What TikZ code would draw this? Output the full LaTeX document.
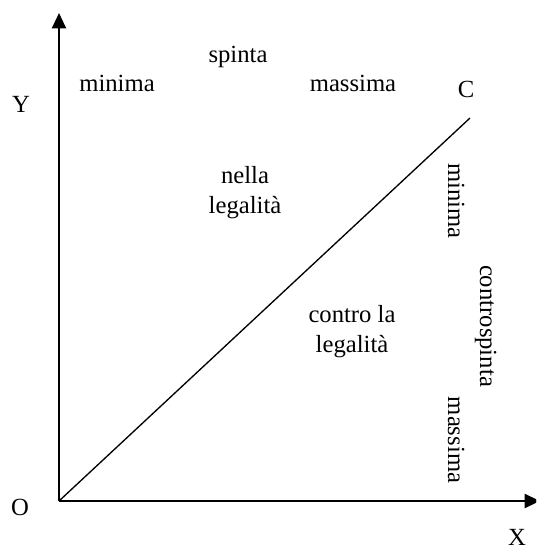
\documentclass[tikz,border=0pt]{standalone}
\usepackage{fontspec}
\setmainfont{Liberation Serif}
\usetikzlibrary{arrows.meta}
\begin{document}
\begin{tikzpicture}[x=0.75pt,y=-0.75pt,
  lbl/.style={font=\fontsize{18.5}{22}\selectfont, inner sep=0pt, anchor=base},
  axis/.style={line width=1.5pt, -{Triangle[length=11.5pt,width=10.5pt]}},
  diag/.style={line width=1pt}]
\useasboundingbox (0,0) rectangle (536,549);
\clip (0,0) rectangle (536,549);
\coordinate (o) at (59,501);
\coordinate (ytip) at (59,13);
\coordinate (xtip) at (540,501);
\coordinate (c) at (470,118);
\draw[axis] (o) -- (ytip);
\draw[axis] (o) -- (xtip);
\draw[diag] (o) -- (c);
\node[lbl] (Y) at (21,113) {Y};
\node[lbl] (X) at (517,545) {X};
\node[lbl] (O) at (20,515) {O};
\node[lbl] (C) at (466,98) {C};
\node[lbl] (spinta) at (238,63) {spinta};
\node[lbl] (minima) at (117,92) {minima};
\node[lbl] (massima) at (353,92) {massima};
\node[lbl] (nella) at (245,183) {nella};
\node[lbl] (leg1) at (245,213) {legalità};
\node[lbl] (contro) at (352,322) {contro la};
\node[lbl] (leg2) at (352,352) {legalità};
\node[lbl, rotate=-90] (rmin) at (448,201) {minima};
\node[lbl, rotate=-90] (rcs) at (480,326) {controspinta};
\node[lbl, rotate=-90] (rmas) at (448,440) {massima};
\end{tikzpicture}
\end{document}
